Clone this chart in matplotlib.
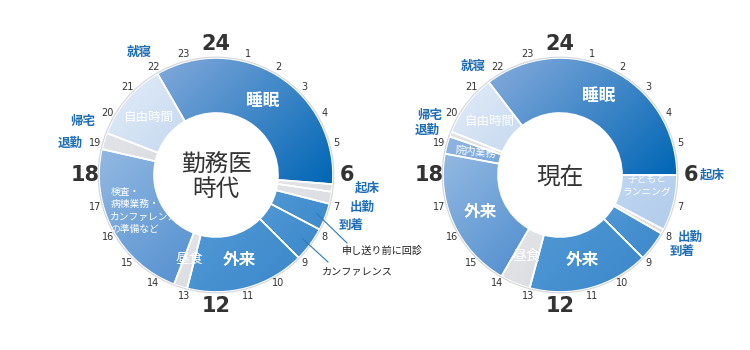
import numpy as np
import matplotlib.pyplot as plt
from matplotlib.patches import Wedge, Circle
from matplotlib.colors import LinearSegmentedColormap

plt.rcParams['font.family'] = ['Noto Sans CJK JP', 'DejaVu Sans']

# 勤務医時代: 各区間の開始時刻（次の区間の開始が終了）
left_title = '勤務医\n時代'
left_labels = ['睡眠', '', '', '', '', '外来', '昼食',
               '検査・\n病棟業務・\nカンファレンス\nの準備など', '', '自由時間']
left_start = [22.0, 6.3, 6.55, 6.95, 7.85, 9.0, 12.95, 13.4, 18.85, 19.4]
left_kind = ['sleep', 'gray', 'gray', 'blue', 'blue', 'blue', 'gray', 'work', 'gray', 'free']

# 現在
right_title = '現在'
right_labels = ['睡眠', '子どもと\nランニング', '', '', '外来', '昼食', '外来', '院内業務', '', '自由時間']
right_start = [21.5, 6.0, 7.85, 8.0, 9.0, 13.0, 14.0, 18.7, 19.28, 19.45]
right_kind = ['sleep', 'kids', 'gray', 'blue', 'blue', 'gray', 'work', 'inner', 'gray', 'free']

# イベント（青字）
event_names = ['起床', '出勤', '到着', '退勤', '帰宅', '就寝']

colors = {
    'sleep': ('#7ca6d9', '#0066b5'),
    'gray': ('#e1e3e7', '#dcdee2'),
    'blue': ('#4f96d3', '#3f8bcd'),
    'work': ('#92b8e2', '#5893d1'),
    'free': ('#dbe7f6', '#cadcf1'),
    'kids': ('#bfd6f0', '#b3cdec'),
    'inner': ('#8fb5e1', '#7aa7db'),
}

R_OUT = 117
R_IN = 62


def seg_wedge(ax, cx, cy, h0, h1, kind):
    th1 = -90 + 15 * h0
    th2 = -90 + 15 * h1
    w = Wedge((cx, cy), R_OUT, th1, th2, width=R_OUT - R_IN,
              facecolor='none', edgecolor='none')
    ax.add_patch(w)
    # 斜めのグラデーション（左上が明るい）
    a = np.radians(np.linspace(th1, th2, 60))
    px = np.concatenate([cx + R_OUT * np.cos(a), cx + R_IN * np.cos(a)])
    py = np.concatenate([cy + R_OUT * np.sin(a), cy + R_IN * np.sin(a)])
    p = px + py
    n = 120
    gx, gy = np.meshgrid(np.linspace(cx - R_OUT, cx + R_OUT, n),
                         np.linspace(cy - R_OUT, cy + R_OUT, n))
    t = np.clip((gx + gy - p.min()) / (p.max() - p.min()), 0, 1)
    cmap = LinearSegmentedColormap.from_list('g', colors[kind])
    im = ax.imshow(t, cmap=cmap, vmin=0, vmax=1, origin='upper',
                   extent=(cx - R_OUT, cx + R_OUT, cy + R_OUT, cy - R_OUT),
                   interpolation='bilinear', zorder=1)
    im.set_clip_path(w)
    ax.add_patch(Wedge((cx, cy), R_OUT, th1, th2, width=R_OUT - R_IN,
                       facecolor='none', edgecolor='white', lw=1.2, zorder=2))


def polar(cx, cy, h, r):
    a = np.radians(-90 + 15 * h)
    return cx + r * np.cos(a), cy + r * np.sin(a)


def draw_clock(ax, cx, cy, starts, kinds, labels, title):
    ends = starts[1:] + [starts[0]]
    for h0, h1, k, lab in zip(starts, ends, kinds, labels):
        if h1 < h0:
            h1 += 24
        seg_wedge(ax, cx, cy, h0, h1, k)
        if lab:
            hm = (h0 + h1) / 2
            x, y = polar(cx, cy, hm, 88)
            fs = 12
            fw = 'bold'
            rot = 0
            ha = 'center'
            if lab == '自由時間':
                fs = 9
                fw = 'normal'
            if lab == '昼食':
                fs = 10
                fw = 'normal'
            if lab == '院内業務':
                fs = 7.5
                fw = 'normal'
                rot = -6
            if lab.startswith('子ども'):
                fs = 7
                fw = 'normal'
                x, y = polar(cx, cy, 6.45, 88)
            if lab.startswith('検査'):
                fs = 7
                fw = 'normal'
                x = x - 28
                y = y - 6
                ha = 'left'
            ax.text(x, y, lab, color='white', fontsize=fs, fontweight=fw, ha=ha,
                    va='center', rotation=rot, linespacing=1.3, zorder=3)
    ax.add_patch(Circle((cx, cy), R_OUT + 0.8, facecolor='none',
                        edgecolor='#d8d9dc', lw=0.9, zorder=2))
    for h in range(1, 25):
        if h % 6 == 0:
            x, y = polar(cx, cy, h, 131)
            ax.text(x, y, str(h), fontsize=15, fontweight='bold', color='#333333',
                    ha='center', va='center', family='DejaVu Sans')
        else:
            x, y = polar(cx, cy, h, 125)
            ax.text(x, y, str(h), fontsize=7, color='#333333',
                    ha='center', va='center', family='DejaVu Sans')
    ax.text(cx, cy + 2, title, fontsize=17, color='#333333', ha='center',
            va='center', linespacing=1.15)


fig = plt.figure(figsize=(7.5, 3.5), dpi=100)
ax = fig.add_axes([0, 0, 1, 1])

LX, LY = 216, 175
RX, RY = 560, 175
draw_clock(ax, LX, LY, left_start, left_kind, left_labels, left_title)
draw_clock(ax, RX, RY, right_start, right_kind, right_labels, right_title)

# 青字のイベント
left_ev_pos = [(151, 13), (146, 32), (135, 50), (-146, -32), (-133, -53), (-77, -123)]
right_ev_pos = [(152, 0), (130, 62), (122, 76), (-133, -45), (-130, -59), (-87, -109)]
for name, (dx, dy) in zip(event_names, left_ev_pos):
    ax.text(LX + dx, LY + dy, name, fontsize=9, fontweight='bold', color='#1f6db5',
            ha='center', va='center')
for name, (dx, dy) in zip(event_names, right_ev_pos):
    ax.text(RX + dx, RY + dy, name, fontsize=9, fontweight='bold', color='#1f6db5',
            ha='center', va='center')

# 引き出し線
ends = left_start[1:] + [left_start[0]]
for i, (tx, ty) in zip([3, 4], [(347, 243), (328, 262)]):
    hm = (left_start[i] + ends[i]) / 2
    x0, y0 = polar(LX, LY, hm, 108)
    ax.plot([x0, tx], [y0, ty], color='#2a7bc0', lw=0.8, zorder=4)
ax.text(342, 251, '申し送り前に回診', fontsize=7.3, color='#222222', ha='left', va='center')
ax.text(322, 271, 'カンファレンス', fontsize=7.3, color='#222222', ha='left', va='center')

ax.set_xlim(0, 750)
ax.set_ylim(350, 0)
ax.set_aspect('auto')
ax.axis('off')
fig.savefig('out.png', dpi=100)
